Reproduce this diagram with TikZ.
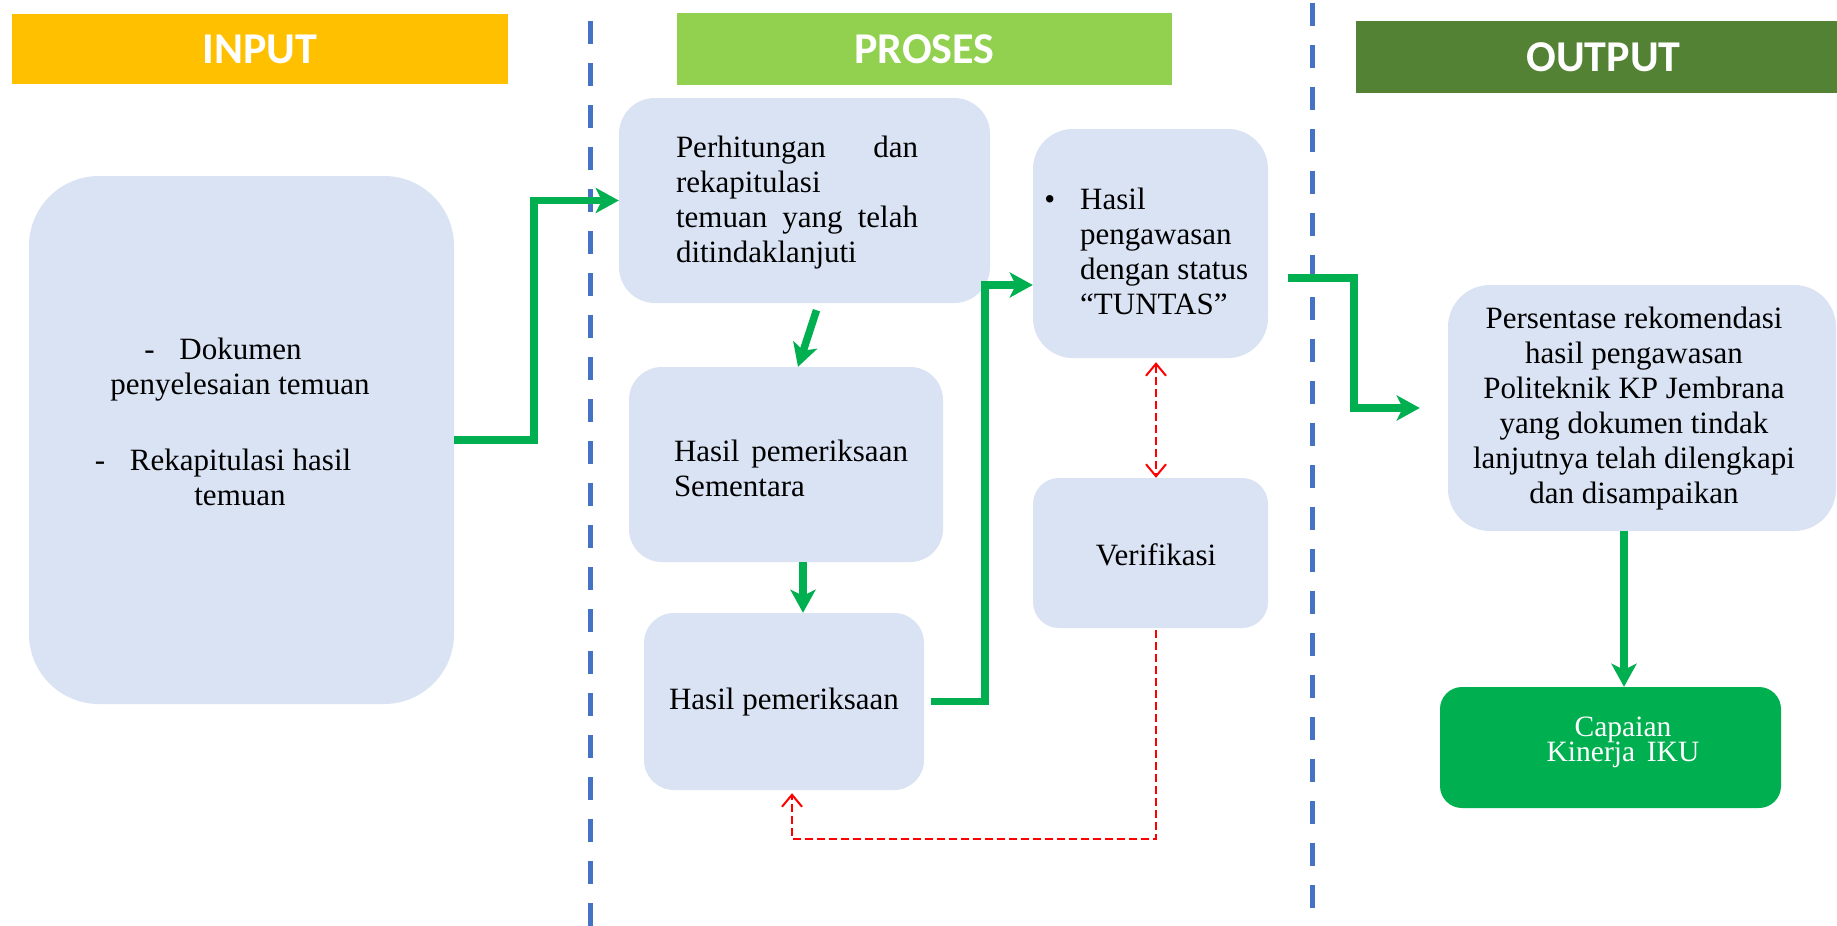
\documentclass[tikz,border=0pt]{standalone}
\usepackage{fontspec}
\setmainfont{Liberation Serif}
\newfontfamily\headfont{Carlito}
\usetikzlibrary{arrows.meta,calc}
\definecolor{boxfill}{HTML}{DAE3F3}
\definecolor{inputc}{HTML}{FFC000}
\definecolor{prosesc}{HTML}{92D050}
\definecolor{outputc}{HTML}{548235}
\definecolor{gline}{HTML}{00B050}
\definecolor{bline}{HTML}{4472C4}
\definecolor{rline}{HTML}{FF0000}
\newcommand\mytightlines{\lineskiplimit=-100pt\relax}
\tikzset{
  gtip/.tip={Stealth[length=23pt,width=25pt,inset=6pt]},
  rtip/.tip={Straight Barb[length=12pt,width=20pt,line width=2pt]},
}
\begin{document}
\begin{tikzpicture}[x=1pt,y=-1pt,
  header/.style={draw=none, inner sep=0pt, font=\headfont\bfseries\fontsize{44}{50}\selectfont, text=white},
  pbox/.style={fill=boxfill, draw=none, inner sep=0pt},
  btext/.style={inner sep=0pt, font=\fontsize{31}{35}\selectfont, text=black},
  garrow/.style={draw=gline, line width=7.5pt, -gtip},
  rarrow/.style={draw=rline, line width=2.5pt, dash pattern=on 8pt off 4pt, -rtip},
  rdouble/.style={draw=rline, line width=2.5pt, dash pattern=on 8pt off 4pt, rtip-rtip},
  divider/.style={draw=bline, line width=5pt, dash pattern=on 23pt off 19pt}
]
\path[use as bounding box, fill=white] (0,0) rectangle (1837,926);

% headers
\node[header, fill=inputc, minimum width=496pt, minimum height=70pt] (hin) at (260,49) {INPUT};
\node[header, fill=prosesc, minimum width=495pt, minimum height=72pt] (hpr) at (924.5,49) {PROSES};
\node[header, fill=outputc, minimum width=481pt, minimum height=72pt] (hout) at (1596.5,57) {\hspace*{14pt}OUTPUT};

% dividers
\draw[divider] (590,21) -- (590,926);
\draw[divider] (1312,3) -- (1312,912);

% boxes
\node[pbox, minimum width=425pt, minimum height=528pt, rounded corners=70pt] (inbox) at (241.5,440) {};
\node[pbox, minimum width=371pt, minimum height=205pt, rounded corners=36pt] (perh) at (804.5,200.5) {};
\node[pbox, minimum width=314pt, minimum height=195pt, rounded corners=33pt] (sem) at (786,464.5) {};
\node[pbox, minimum width=280pt, minimum height=177pt, rounded corners=30pt] (hp) at (784,701.5) {};
\node[pbox, minimum width=235pt, minimum height=229pt, rounded corners=40pt] (tun) at (1150.5,243.5) {};
\node[pbox, minimum width=235pt, minimum height=150pt, rounded corners=26pt] (ver) at (1150.5,553) {};
\node[pbox, minimum width=388pt, minimum height=246pt, rounded corners=42pt] (outb) at (1642,408) {};
\node[fill=gline, draw=none, inner sep=0pt, minimum width=341pt, minimum height=121pt, rounded corners=22pt] (cap) at (1610.5,747.5) {};

% texts
\node[btext, align=center] (tin) at (240,422) {-\hspace{0.8em}Dokumen\rule{34pt}{0pt}\\penyelesaian temuan\\[41pt]-\hspace{0.8em}Rekapitulasi hasil\rule{34pt}{0pt}\\temuan};
\node[btext, text width=242pt, align=left] (tperh) at (797,202.5) {Perhitungan\hfill dan\\rekapitulasi\\temuan\hfill yang\hfill telah\\ditindaklanjuti};
\node[btext, text width=234pt, align=left] (tsem) at (791,468) {Hasil\hfill pemeriksaan\\Sementara};
\node[btext] (thp) at (784,702.5) {Hasil pemeriksaan};
\node[btext, align=left, anchor=west] (ttun) at (1080,251) {\llap{\textbullet\hspace{25pt}}Hasil\\pengawasan\\dengan status\\“TUNTAS”};
\node[btext] (tver) at (1156,555) {Verifikasi};
\node[btext, align=center] (tout) at (1634,408.5) {Persentase rekomendasi\\hasil pengawasan\\Politeknik KP Jembrana\\yang dokumen tindak\\lanjutnya telah dilengkapi\\dan disampaikan};
\node[inner sep=0pt, font=\fontsize{29.5}{25}\selectfont\mytightlines, text=white, align=center] (tcap) at (1623,742) {Capaian\\Kinerja\hspace{0.4em}IKU};

% green connectors
\draw[garrow] (inbox.east) -- ++(80,0) |- (perh.west);
\draw[garrow] ([shift={(12,7)}]perh.south) -- ([shift={(12,0)}]sem.north);
\draw[garrow] ([xshift=17pt]sem.south) -- ([xshift=17pt]sem.south |- hp.north);
\draw[garrow] ([xshift=7pt]hp.east) -- ++(54,0) |- ([yshift=-41.5pt]tun.west);
\draw[garrow] ([shift={(20,34.5)}]tun.east) -- ++(66,0) |- ([xshift=-28pt]outb.west);
\draw[garrow] ([xshift=-18pt]outb.south) -- ([xshift=-18pt]outb.south |- cap.north);

% red connectors
\draw[rdouble] ([shift={(5.5,4)}]tun.south) -- ([xshift=5.5pt]ver.north);
\draw[rarrow] ([shift={(5.5,2)}]ver.south) -- ++(0,209) -| ([shift={(8,3)}]hp.south);
\end{tikzpicture}
\end{document}
